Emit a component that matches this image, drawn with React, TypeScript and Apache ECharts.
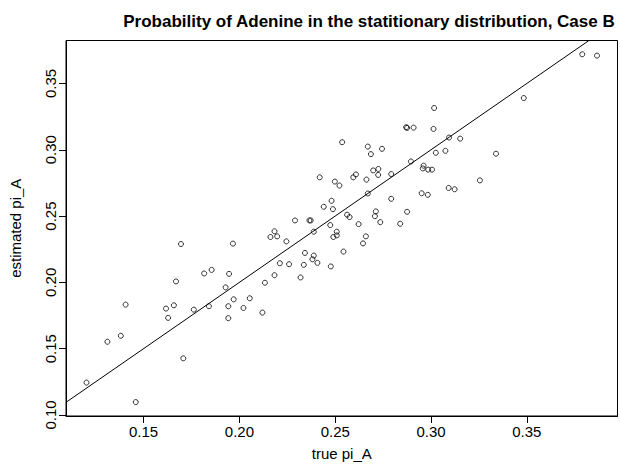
import React, { useEffect, useRef } from "react";
import * as echarts from "echarts";

const titleText = "Probability of Adenine in the statitionary distribution, Case B";
const xName = "true pi_A";
const yName = "estimated pi_A";

const xTicks = [0.15, 0.2, 0.25, 0.3, 0.35];
const yTicks = [0.1, 0.15, 0.2, 0.25, 0.3, 0.35];

const trueA = [
  0.3789, 0.3866, 0.3484, 0.3016, 0.287, 0.2875, 0.2909, 0.3013, 0.2536, 0.3094,
  0.3152, 0.267, 0.2744, 0.2686, 0.3075, 0.3025, 0.3339, 0.2895, 0.2961, 0.2957,
  0.2985, 0.3005, 0.2698, 0.2725, 0.2724, 0.2792, 0.2608, 0.2594, 0.2663, 0.2498,
  0.2522, 0.2419, 0.3255, 0.267, 0.3092, 0.3123, 0.2951, 0.2983, 0.2792, 0.2481,
  0.244, 0.2488, 0.229, 0.2365, 0.2372, 0.2875, 0.2712, 0.2707, 0.2562, 0.2575,
  0.2622, 0.2735, 0.2839, 0.2474, 0.2508, 0.2508, 0.249, 0.266, 0.2645, 0.2543,
  0.2477, 0.2388, 0.2183, 0.2162, 0.2197, 0.2245, 0.1695, 0.1966, 0.2342, 0.2388,
  0.2381, 0.2407, 0.2211, 0.2259, 0.2336, 0.1816, 0.1855, 0.1946, 0.2183, 0.2319,
  0.1669, 0.2133, 0.1928, 0.1406, 0.1658, 0.1617, 0.1762, 0.1841, 0.1942, 0.197,
  0.2054, 0.2021, 0.212, 0.1628, 0.1942, 0.1311, 0.1381, 0.1707, 0.1202, 0.1459,
];

const estA = [
  0.372, 0.371, 0.339, 0.3315, 0.317, 0.3165, 0.3167, 0.3157, 0.3057, 0.3092,
  0.3084, 0.3024, 0.3007, 0.2967, 0.2992, 0.2977, 0.297, 0.2912, 0.288, 0.2859,
  0.285, 0.285, 0.2844, 0.2855, 0.281, 0.2817, 0.2814, 0.2792, 0.2775, 0.276,
  0.273, 0.2792, 0.2769, 0.267, 0.2712, 0.2702, 0.2672, 0.266, 0.263, 0.2615,
  0.257, 0.2552, 0.2467, 0.2467, 0.2467, 0.2532, 0.2535, 0.2499, 0.251, 0.2492,
  0.2439, 0.2454, 0.2442, 0.2432, 0.2382, 0.2354, 0.2342, 0.2347, 0.2294, 0.2232,
  0.212, 0.2382, 0.2385, 0.2342, 0.2347, 0.2309, 0.2289, 0.2292, 0.2222, 0.2202,
  0.2174, 0.2147, 0.2144, 0.2137, 0.2132, 0.2067, 0.2094, 0.2064, 0.2054, 0.2037,
  0.2007, 0.1997, 0.1962, 0.1832, 0.1827, 0.1802, 0.1794, 0.182, 0.182, 0.1872,
  0.188, 0.1807, 0.1772, 0.1732, 0.173, 0.1552, 0.1597, 0.1427, 0.1244, 0.1097,
];

// reference line y = intercept + slope * x
const lineIntercept = 0;
const lineSlope = 1;

const X_MIN = 0.1095;
const X_MAX = 0.3973;
const Y_MIN = 0.0992;
const Y_MAX = 0.3824;

const FONT = "'Liberation Sans', Arial, Helvetica, sans-serif";

export default function App() {
  const ref = useRef<HTMLDivElement>(null);

  useEffect(() => {
    if (!ref.current) return;
    const chart = echarts.init(ref.current, undefined, { renderer: "svg" });
    const points = trueA.map((x, i) => [x, estA[i]]);
    const xEnd = Math.min(X_MAX, (Y_MAX - lineIntercept) / lineSlope);
    const lineData = [
      [X_MIN, lineIntercept + lineSlope * X_MIN],
      [xEnd, lineIntercept + lineSlope * xEnd],
    ];
    chart.setOption({
      animation: false,
      backgroundColor: "#ffffff",
      textStyle: { fontFamily: FONT },
      title: {
        text: titleText,
        left: 364,
        textAlign: "center",
        top: 8,
        textStyle: { fontFamily: FONT, fontSize: 17, fontWeight: "bold", color: "#000" },
      },
      grid: {
        left: 61.5,
        right: 2.5,
        top: 40.5,
        bottom: 51,
        show: true,
        borderColor: "#000",
        borderWidth: 1,
        backgroundColor: "transparent",
      },
      xAxis: {
        type: "value",
        min: X_MIN,
        max: X_MAX,
        name: xName,
        nameLocation: "middle",
        nameGap: 30,
        nameTextStyle: { fontFamily: FONT, fontSize: 15, color: "#000" },
        axisLine: { show: true, lineStyle: { color: "#000", width: 1 } },
        axisTick: { show: true, length: 7, lineStyle: { color: "#000" }, customValues: xTicks },
        axisLabel: {
          customValues: xTicks,
          formatter: (v: number) => v.toFixed(2),
          fontFamily: FONT,
          fontSize: 15,
          color: "#000",
          margin: 8,
        },
        splitLine: { show: false },
      },
      yAxis: {
        type: "value",
        min: Y_MIN,
        max: Y_MAX,
        name: yName,
        nameLocation: "middle",
        nameGap: 43,
        nameTextStyle: { fontFamily: FONT, fontSize: 15, color: "#000" },
        axisLine: { show: true, lineStyle: { color: "#000", width: 1 } },
        axisTick: { show: true, length: 7, lineStyle: { color: "#000" }, customValues: yTicks },
        axisLabel: {
          customValues: yTicks,
          formatter: (v: number) => v.toFixed(2),
          rotate: 90,
          fontFamily: FONT,
          fontSize: 15,
          color: "#000",
          margin: 8,
        },
        splitLine: { show: false },
      },
      series: [
        {
          type: "line",
          data: lineData,
          showSymbol: false,
          symbol: "none",
          lineStyle: { color: "#000", width: 1 },
          clip: true,
          silent: true,
          z: 1,
        },
        {
          type: "scatter",
          data: points,
          symbol: "circle",
          symbolSize: 5,
          itemStyle: { color: "rgba(0,0,0,0)", borderColor: "#000", borderWidth: 1 },
          z: 2,
        },
      ],
    });
    return () => chart.dispose();
  }, []);

  return (
    <div
      ref={ref}
      style={{ position: "fixed", left: 0, top: 0, width: 620, height: 467 }}
    />
  );
}
